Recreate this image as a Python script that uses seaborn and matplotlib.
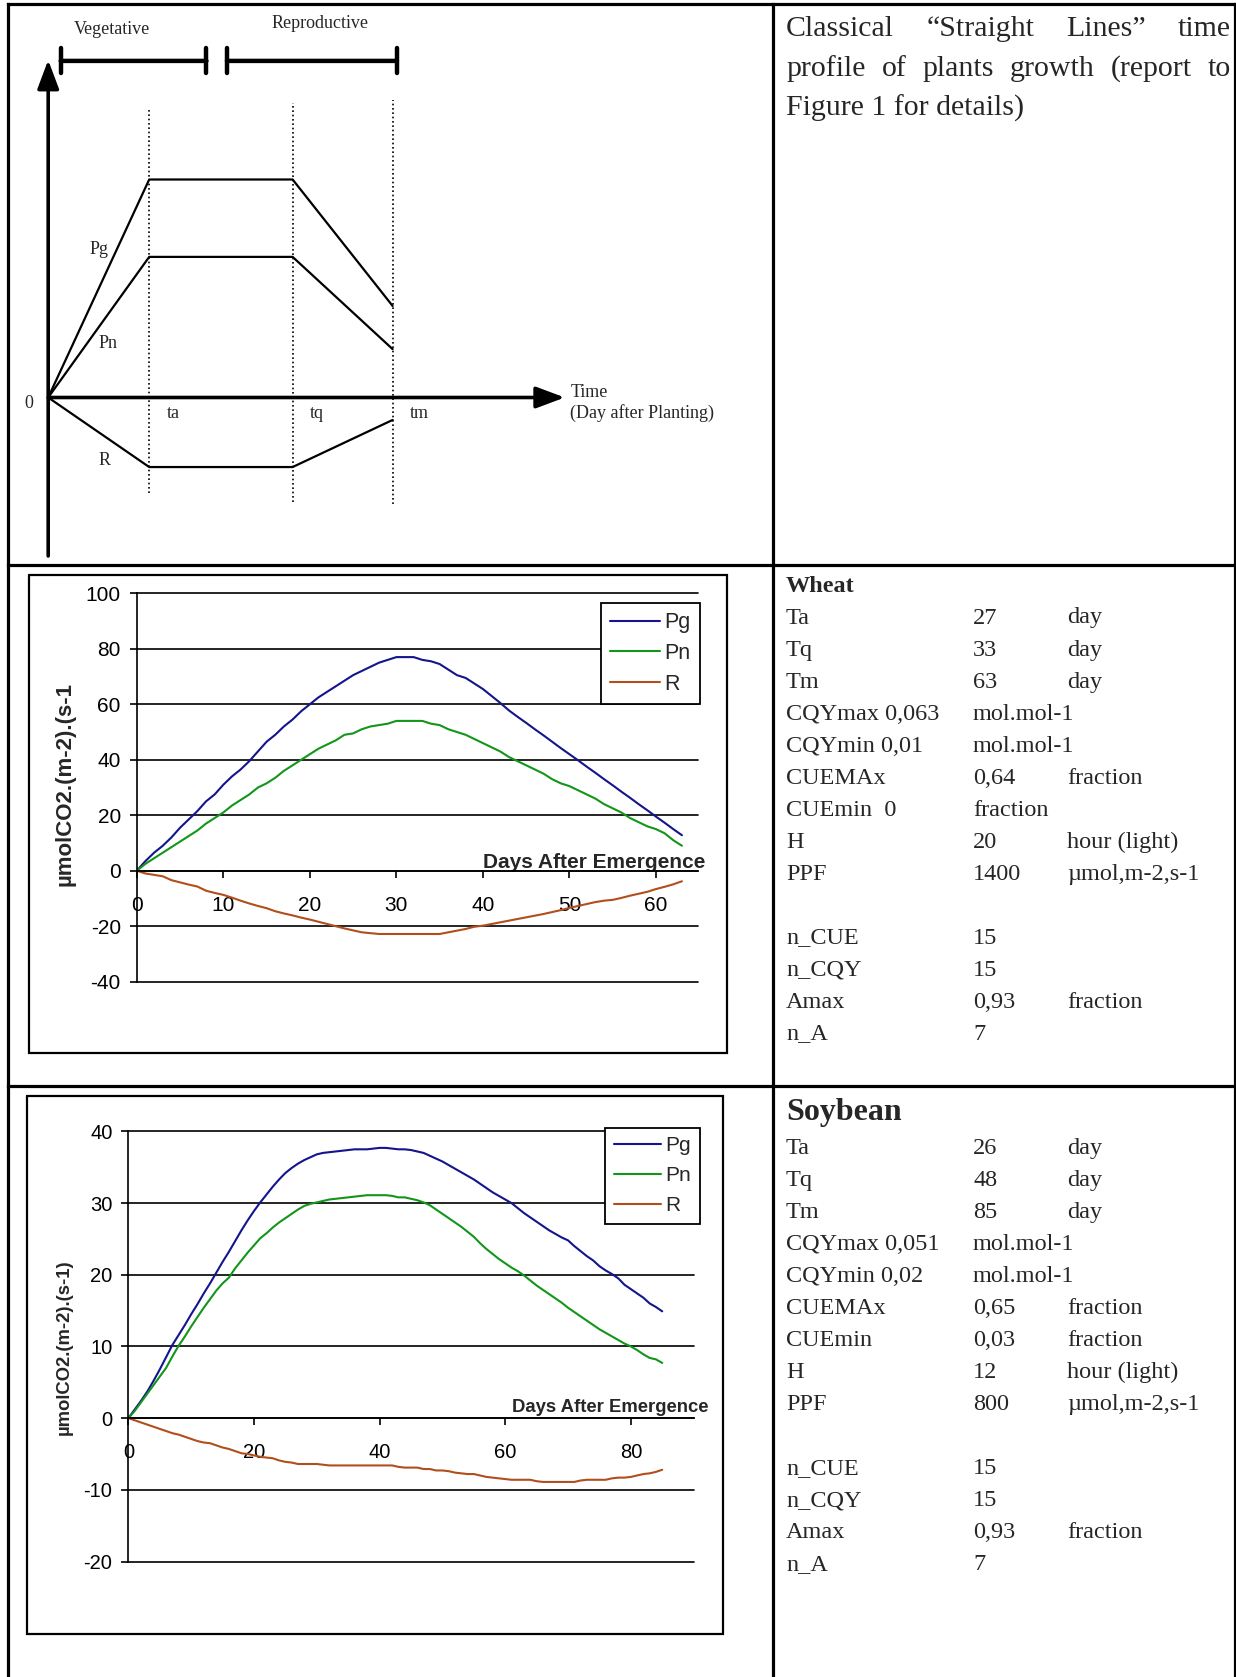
import numpy as np
import pandas as pd
import matplotlib
matplotlib.use("Agg")
import matplotlib.pyplot as plt
import seaborn as sns

# ---------------------------------------------------------------- data
series_names = ["Pg", "Pn", "R"]
series_colors = ["#14148c", "#12961a", "#b24e1c"]

wheat_days = list(range(0, 64))
wheat_pg = [0, 3.5, 6.5, 9, 12, 15.5, 18.5, 21.5, 25, 27.5,
            31, 34, 36.5, 39.5, 43, 46.5, 49, 52, 54.5, 57.5,
            60, 62.5, 64.5, 66.5, 68.5, 70.5, 72, 73.5, 75, 76,
            77, 77, 77, 76, 75.5, 74.5, 72.5, 70.5, 69.5, 67.5,
            65.5, 63, 60.5, 57.8, 55.5, 53.3, 51, 48.8, 46.5, 44.2,
            42, 39.8, 37.5, 35.3, 33, 30.8, 28.5, 26.3, 24, 21.8,
            19.5, 17.3, 15, 12.8]
wheat_pn = [0, 2.5, 4.5, 6.5, 8.5, 10.5, 12.5, 14.5, 17, 19,
            21, 23.5, 25.5, 27.5, 30, 31.5, 33.5, 36, 38, 40,
            42, 44, 45.5, 47, 49, 49.5, 51, 52, 52.5, 53,
            54, 54, 54, 54, 53, 52.5, 51, 50, 49, 47.5,
            46, 44.5, 43, 41, 39.5, 38, 36.5, 35, 33, 31.5,
            30.5, 29, 27.5, 26, 24, 22.5, 21, 19, 17.5, 16,
            15, 13.5, 11, 9]
wheat_r = [0, -1, -1.5, -2, -3.4, -4.2, -5, -5.7, -7.2, -8,
           -8.7, -9.7, -10.8, -11.8, -12.7, -13.5, -14.6, -15.4, -16.1, -16.9,
           -17.6, -18.4, -19.2, -20, -20.8, -21.5, -22.2, -22.5, -22.8, -22.8,
           -22.8, -22.8, -22.8, -22.8, -22.8, -22.8, -22.2, -21.6, -21, -20.2,
           -19.8, -19.2, -18.6, -18, -17.4, -16.8, -16.2, -15.6, -14.9, -14.2,
           -13.4, -12.7, -12, -11.3, -10.8, -10.5, -9.8, -9, -8.3, -7.6,
           -6.6, -5.8, -4.9, -3.8]

soy_days = list(range(0, 86))
soy_pg = [0, 1.2, 2.4, 3.7, 5.2, 6.8, 8.5, 10.2, 11.6, 13.0,
          14.5, 15.9, 17.4, 18.8, 20.3, 21.8, 23.2, 24.7, 26.2, 27.6,
          28.9, 30.1, 31.2, 32.3, 33.3, 34.2, 34.9, 35.5, 36.0, 36.4,
          36.8, 37.0, 37.1, 37.2, 37.3, 37.4, 37.5, 37.5, 37.5, 37.6,
          37.7, 37.7, 37.6, 37.5, 37.5, 37.4, 37.2, 37.0, 36.6, 36.2,
          35.8, 35.3, 34.8, 34.3, 33.8, 33.3, 32.7, 32.1, 31.5, 31.0,
          30.5, 30.0, 29.3, 28.6, 28.0, 27.4, 26.8, 26.2, 25.7, 25.2,
          24.8, 24.0, 23.3, 22.6, 22.0, 21.2, 20.6, 20.1, 19.5, 18.6,
          18.0, 17.4, 16.8, 16.0, 15.5, 14.9]
soy_pn = [0, 1.0, 2.2, 3.4, 4.6, 5.8, 7.0, 8.6, 10.1, 11.4,
          12.8, 14.1, 15.4, 16.6, 17.8, 18.8, 19.6, 20.9, 22.0, 23.1,
          24.1, 25.1, 25.8, 26.6, 27.3, 27.9, 28.5, 29.1, 29.6, 29.9,
          30.1, 30.3, 30.5, 30.6, 30.7, 30.8, 30.9, 31.0, 31.1, 31.1,
          31.1, 31.1, 31.0, 30.8, 30.8, 30.6, 30.4, 30.1, 29.7, 29.1,
          28.5, 27.9, 27.3, 26.7, 26.0, 25.3, 24.4, 23.6, 22.9, 22.2,
          21.6, 21.0, 20.5, 19.9, 19.2, 18.5, 17.9, 17.3, 16.7, 16.1,
          15.4, 14.8, 14.2, 13.6, 13.0, 12.4, 11.9, 11.4, 10.9, 10.4,
          10.0, 9.5, 8.9, 8.4, 8.2, 7.7]
soy_r = [0, -0.3, -0.6, -0.9, -1.2, -1.5, -1.8, -2.1, -2.3, -2.6,
         -2.9, -3.2, -3.4, -3.5, -3.8, -4.1, -4.3, -4.6, -4.9, -5.0,
         -5.2, -5.4, -5.5, -5.6, -5.9, -6.1, -6.2, -6.4, -6.4, -6.4,
         -6.4, -6.5, -6.6, -6.6, -6.6, -6.6, -6.6, -6.6, -6.6, -6.6,
         -6.6, -6.6, -6.6, -6.8, -6.9, -6.9, -6.9, -7.1, -7.1, -7.3,
         -7.3, -7.4, -7.6, -7.7, -7.8, -7.8, -8.0, -8.2, -8.3, -8.4,
         -8.5, -8.6, -8.6, -8.6, -8.6, -8.8, -8.9, -8.9, -8.9, -8.9,
         -8.9, -8.9, -8.7, -8.6, -8.6, -8.6, -8.6, -8.4, -8.3, -8.3,
         -8.2, -8.0, -7.8, -7.7, -7.5, -7.2]

wheat_yticks = [-40, -20, 0, 20, 40, 60, 80, 100]
wheat_xticks = [0, 10, 20, 30, 40, 50, 60]
soy_yticks = [-20, -10, 0, 10, 20, 30, 40]
soy_xticks = [0, 20, 40, 60, 80]

# schematic ("straight lines") profile: 0, ta, tq, tm
phase_t = [0, 1.0, 2.42, 3.41]
phase_names = ["ta", "tq", "tm"]
schem_pg = [0, 1.0, 1.0, 0.42]
schem_pn = [0, 0.645, 0.645, 0.222]
schem_r = [0, -0.319, -0.319, -0.103]

caption_lines = ["Classical \u201cStraight Lines\u201d time",
                 "profile of plants growth (report to",
                 "Figure 1 for details)"]

wheat_title = "Wheat"
wheat_params = [("Ta", "27", "day"), ("Tq", "33", "day"), ("Tm", "63", "day"),
                ("CQYmax 0,063", "mol.mol-1", ""), ("CQYmin 0,01", "mol.mol-1", ""),
                ("CUEMAx", "0,64", "fraction"), ("CUEmin  0", "fraction", ""),
                ("H", "20", "hour (light)"), ("PPF", "1400", "\u00b5mol,m-2,s-1"),
                ("", "", ""),
                ("n_CUE", "15", ""), ("n_CQY", "15", ""),
                ("Amax", "0,93", "fraction"), ("n_A", "7", "")]
soy_title = "Soybean"
soy_params = [("Ta", "26", "day"), ("Tq", "48", "day"), ("Tm", "85", "day"),
              ("CQYmax 0,051", "mol.mol-1", ""), ("CQYmin 0,02", "mol.mol-1", ""),
              ("CUEMAx", "0,65", "fraction"), ("CUEmin", "0,03", "fraction"),
              ("H", "12", "hour (light)"), ("PPF", "800", "\u00b5mol,m-2,s-1"),
              ("", "", ""),
              ("n_CUE", "15", ""), ("n_CQY", "15", ""),
              ("Amax", "0,93", "fraction"), ("n_A", "7", "")]

# ---------------------------------------------------------------- style
sns.set_style("white")
plt.rcParams['font.family'] = ['Liberation Sans', 'DejaVu Sans']
SERIF = ['Liberation Serif', 'DejaVu Serif']

W, H = 1236, 1677
fig = plt.figure(figsize=(W / 100, H / 100), dpi=100)
fig.patch.set_facecolor('white')


def rect(x0, y0, x1, y1):
    return [x0 / W, 1 - y1 / H, (x1 - x0) / W, (y1 - y0) / H]


# overlay axes in pixel coordinates (y downwards)
ov = fig.add_axes([0, 0, 1, 1])
ov.set_xlim(0, W)
ov.set_ylim(H, 0)
ov.axis('off')

# table grid
BL = 2.3
XL, XM, XR = 7.5, 773, 1234.5
YT, Y1, Y2 = 4.4, 564.5, 1086
for y in (YT, Y1, Y2):
    ov.plot([XL, XR], [y, y], color='black', lw=BL, solid_capstyle='projecting')
for x in (XL, XM, XR):
    ov.plot([x, x], [YT, H + 5], color='black', lw=BL, solid_capstyle='projecting')

# ---------------------------------------------------------------- schematic
sx0, sx1, sy0, sy1 = 12, 768, 8, 560
ox, oy, ux, uy = 48.2, 397.5, 101.0, 218.0
axs = fig.add_axes(rect(sx0, sy0, sx1, sy1))
axs.set_xlim((sx0 - ox) / ux, (sx1 - ox) / ux)
axs.set_ylim((oy - sy1) / uy, (oy - sy0) / uy)
axs.axis('off')

arrow_kw = dict(arrowstyle='-|>,head_length=0.8,head_width=0.3', color='black',
                lw=2.6, shrinkA=0, shrinkB=0, mutation_scale=22)
axs.annotate('', xy=(0, 1.548), xytext=(0, -0.727), arrowprops=arrow_kw)
axs.annotate('', xy=(5.114, 0), xytext=(0, 0), arrowprops=arrow_kw)

bar_kw = dict(arrowstyle='|-|,widthA=0.45,widthB=0.45', color='black', lw=3.2,
              shrinkA=0, shrinkB=0, mutation_scale=20)
axs.annotate('', xy=(1.567, 1.544), xytext=(0.124, 1.544), arrowprops=bar_kw)
axs.annotate('', xy=(3.453, 1.544), xytext=(1.77, 1.544), arrowprops=bar_kw)

dot_top = [1.319, 1.351, 1.365]
dot_bot = [-0.438, -0.479, -0.488]
axs.vlines(phase_t[1:], dot_bot, dot_top, colors='black', linestyles=(0, (1, 1.6)), lw=1.2)

for yv in (schem_pg, schem_pn, schem_r):
    sns.lineplot(x=phase_t, y=yv, ax=axs, color='black', lw=1.6, sort=False,
                 estimator=None)
axs.set_xlabel('')
axs.set_ylabel('')

tfs = 13
axs.text(0.632, 1.690, "Vegetative", fontsize=tfs, family=SERIF, ha='center', va='center')
axs.text(2.691, 1.715, "Reproductive", fontsize=tfs, family=SERIF, ha='center', va='center')
axs.text(0.508, 0.677, "Pg", fontsize=tfs, family=SERIF, ha='center', va='center')
axs.text(0.597, 0.247, "Pn", fontsize=tfs, family=SERIF, ha='center', va='center')
axs.text(0.557, -0.291, "R", fontsize=tfs, family=SERIF, ha='center', va='center')
axs.text(-0.191, -0.028, "0", fontsize=tfs, family=SERIF, ha='center', va='center')
for t, nm in zip(phase_t[1:], phase_names):
    axs.text(t + 0.17, -0.073, nm, fontsize=tfs, family=SERIF, ha='left', va='center')
axs.text(5.17, 0.022, "Time", fontsize=tfs, family=SERIF, ha='left', va='center')
axs.text(5.17, -0.073, "(Day after Planting)", fontsize=tfs, family=SERIF, ha='left', va='center')

# ---------------------------------------------------------------- caption (justified)
renderer = fig.canvas.get_renderer()
cap_fs = 21.5
cap_x0, cap_x1 = 786, 1231
cap_base = [36, 76, 115.5]
for i, line in enumerate(caption_lines):
    if i == len(caption_lines) - 1:
        ov.text(cap_x0, cap_base[i], line, fontsize=cap_fs, family=SERIF,
                ha='left', va='baseline')
        continue
    words = line.split()
    txts = [ov.text(0, cap_base[i], w, fontsize=cap_fs, family=SERIF,
                    ha='left', va='baseline') for w in words]
    widths = [t.get_window_extent(renderer).width for t in txts]
    gap = (cap_x1 - cap_x0 - sum(widths)) / (len(words) - 1)
    x = cap_x0
    for t, wd in zip(txts, widths):
        t.set_x(x)
        x += wd + gap

# ---------------------------------------------------------------- parameter tables
col_x = [786, 973, 1067]
pfs = 17.5


def param_block(title, title_fs, title_base, first_base, rows):
    ov.text(col_x[0], title_base, title, fontsize=title_fs, family=SERIF,
            fontweight='bold', ha='left', va='baseline')
    for k, row in enumerate(rows):
        yb = first_base + 32 * k
        for cx, s in zip(col_x, row):
            if s:
                ov.text(cx, yb, s, fontsize=pfs, family=SERIF, ha='left', va='baseline')


param_block(wheat_title, 17.5, 591.7, 623.5, wheat_params)
param_block(soy_title, 23, 1120, 1154, soy_params)

# ---------------------------------------------------------------- charts


def chart(ax_px, box_px, days, pg, pn, r, ylim, yticks, xmax, xticks, tick_fs,
          leg_px, leg_fs, leg_hl, leg_sp, dae_px, dae_fs, ylab_px, ylab, ylab_fs):
    # outer chart frame
    bx0, by0, bx1, by1 = box_px
    ov.plot([bx0, bx1, bx1, bx0, bx0], [by0, by0, by1, by1, by0], color='black',
            lw=1.6, solid_joinstyle='miter')
    ax = fig.add_axes(rect(*ax_px))
    ax.set_facecolor('none')
    df = pd.DataFrame({
        'day': np.concatenate([days] * 3),
        'value': np.concatenate([pg, pn, r]),
        'series': np.repeat(series_names, len(days)),
    })
    sns.lineplot(data=df, x='day', y='value', hue='series', hue_order=series_names,
                 palette=series_colors, ax=ax, legend=False, lw=1.5,
                 estimator=None, sort=True)
    ax.set_xlim(0, xmax)
    ax.set_ylim(*ylim)
    ax.set_yticks(yticks)
    ax.set_yticklabels([str(v) for v in yticks])
    ax.set_xticks(xticks)
    ax.set_xticklabels([str(v) for v in xticks])
    ax.set_xlabel('')
    ax.set_ylabel('')
    ax.grid(False)
    ax.yaxis.grid(True, color='black', lw=1.2)
    for gl in ax.yaxis.get_gridlines():
        gl.set_clip_on(False)
    ax.set_axisbelow(True)
    for s in ('top', 'right'):
        ax.spines[s].set_visible(False)
    ax.spines['bottom'].set_position(('data', 0))
    for s in ('left', 'bottom'):
        ax.spines[s].set_color('black')
        ax.spines[s].set_linewidth(1.2)
    ax.tick_params(axis='y', left=True, direction='out', length=5, width=1.2,
                   pad=6.5, labelsize=tick_fs, colors='black')
    ax.tick_params(axis='x', bottom=True, direction='out', length=5, width=1.2,
                   pad=13, labelsize=tick_fs, colors='black')

    handles = ax.get_lines()[:3]
    lx0, ly0 = leg_px
    leg = ax.legend(handles, series_names, loc='upper left',
                    bbox_to_anchor=(lx0 / W, 1 - ly0 / H), bbox_transform=fig.transFigure,
                    frameon=True, fancybox=False, shadow=False, edgecolor='black',
                    framealpha=1, fontsize=leg_fs, handlelength=leg_hl,
                    handletextpad=0.22, borderpad=0.42, labelspacing=leg_sp,
                    borderaxespad=0)
    leg.get_frame().set_linewidth(1.3)

    ov.text(dae_px[0], dae_px[1], "Days After Emergence", fontsize=dae_fs,
            fontweight='bold', ha='right', va='baseline')
    ov.text(ylab_px[0], ylab_px[1], ylab, fontsize=ylab_fs, fontweight='bold',
            rotation=90, ha='center', va='center')
    return ax


chart((136.8, 593.3, 697.5, 981.7), (28.9, 575, 727.4, 1053.3),
      wheat_days, wheat_pg, wheat_pn, wheat_r, (-40, 100), wheat_yticks, 64.8,
      wheat_xticks, 15, (601, 603.3), 15.5, 2.3, 0.45, (705, 868.3), 15,
      (64.7, 784), "\u00b5molCO2.(m-2).(s-1", 16)

chart((128.4, 1131.4, 694, 1561.5), (27.4, 1096, 722.9, 1633.9),
      soy_days, soy_pg, soy_pn, soy_r, (-20, 40), soy_yticks, 90.06,
      soy_xticks, 14.5, (605, 1127.6), 15, 2.25, 0.52, (708, 1412), 13.3,
      (64.7, 1347.5), "\u00b5molCO2.(m-2).(s-1)", 13.3)

fig.savefig("out.png", dpi=100, facecolor='white')
